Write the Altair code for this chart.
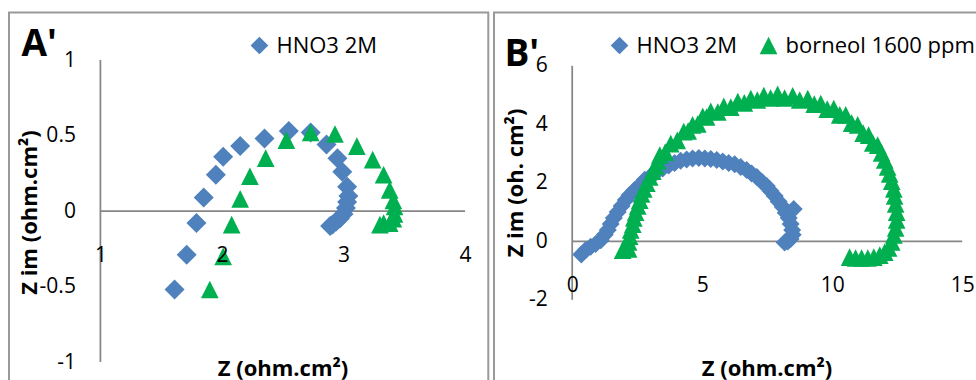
import altair as alt
import pandas as pd

# ---------------- data ----------------
SERIES = ["HNO3 2M", "borneol 1600 ppm"]
COLORS = ["#4F81BD", "#00B050"]
TRIANGLE = "M0,-1L1,1L-1,1Z"
SHAPES = ["diamond", TRIANGLE]

# Panel A'
a_hno3_z = [1.61, 1.71, 1.79, 1.85, 1.95, 2.01, 2.15, 2.35, 2.55, 2.73, 2.86, 2.95,
            2.99, 3.03, 3.04, 3.03, 3.02, 3.00, 2.97, 2.94, 2.91, 2.89]
a_hno3_zim = [-0.52, -0.29, -0.08, 0.09, 0.24, 0.36, 0.43, 0.48, 0.53, 0.52, 0.44, 0.35,
              0.26, 0.16, 0.10, 0.06, 0.02, -0.02, -0.05, -0.07, -0.09, -0.10]
a_born_z = [1.90, 2.01, 2.08, 2.15, 2.23, 2.36, 2.53, 2.73, 2.93, 3.11, 3.24, 3.33,
            3.38, 3.41, 3.42, 3.42, 3.41, 3.38, 3.33, 3.30]
a_born_zim = [-0.52, -0.30, -0.09, 0.08, 0.23, 0.35, 0.47, 0.52, 0.51, 0.43, 0.34, 0.24,
              0.14, 0.07, 0.03, -0.02, -0.05, -0.08, -0.08, -0.09]

# Panel B'
b_hno3_z = [0.35, 0.52, 0.71, 0.90, 1.10, 1.25, 1.37, 1.48, 1.60, 1.75, 1.90, 2.06, 2.21,
            2.40, 2.60, 2.79, 3.02, 3.25, 3.48, 3.71, 3.94, 4.17, 4.40, 4.63, 4.87, 5.10,
            5.33, 5.56, 5.79, 6.02, 6.25, 6.48, 6.71, 6.90, 7.10, 7.29, 7.48, 7.63, 7.79,
            7.94, 8.10, 8.21, 8.33, 8.40, 8.46, 8.48, 8.40, 8.29, 8.17, 8.52]
b_hno3_zim = [-0.45, -0.30, -0.19, -0.09, 0.04, 0.22, 0.39, 0.59, 0.80, 1.00, 1.21, 1.41,
              1.58, 1.75, 1.92, 2.10, 2.23, 2.37, 2.49, 2.59, 2.68, 2.75, 2.80, 2.83, 2.85,
              2.83, 2.81, 2.78, 2.73, 2.68, 2.63, 2.54, 2.44, 2.32, 2.20, 2.04, 1.89, 1.72,
              1.55, 1.36, 1.17, 0.98, 0.80, 0.59, 0.39, 0.22, 0.08, -0.01, -0.04, 1.10]
b_born_z = [1.94, 2.17, 2.17, 2.21, 2.25, 2.33, 2.37, 2.44, 2.52, 2.60, 2.67, 2.75, 2.87,
            2.98, 3.10, 3.21, 3.29,
            3.37, 3.58, 3.79, 4.04, 4.29, 4.46, 4.63, 4.83, 5.02, 5.17, 5.33, 5.60, 5.83,
            6.10, 6.37, 6.62, 6.87, 7.12, 7.37, 7.63, 7.90, 8.17, 8.48, 8.75, 9.06, 9.31,
            9.56, 9.81, 10.06, 10.29, 10.52, 10.75, 10.98, 11.19, 11.40, 11.56, 11.75,
            11.90, 12.02, 12.13, 12.21, 12.29, 12.37, 12.40, 12.44, 12.48, 12.48, 12.44,
            12.37, 12.29, 12.17, 12.02, 11.83, 11.60, 11.37, 11.13, 10.90, 10.67]
b_born_zim = [-0.30, -0.26, -0.02, 0.18, 0.39, 0.59, 0.80, 1.00, 1.21, 1.41, 1.62, 1.79,
              1.99, 2.20, 2.40, 2.57, 2.76,
              2.95, 3.05, 3.34, 3.45, 3.75, 3.77, 3.98, 4.01, 4.27, 4.25, 4.44, 4.42, 4.61,
              4.59, 4.78, 4.73, 4.88, 4.83, 4.98, 4.90, 5.02, 4.90, 4.97, 4.83, 4.88, 4.69,
              4.71, 4.52, 4.54, 4.32, 4.32, 4.04, 3.98, 3.70, 3.63, 3.36, 3.29,
              3.02, 2.78, 2.54, 2.30, 2.06, 1.79, 1.55, 1.28, 1.00, 0.73, 0.46,
              0.22, -0.02, -0.23, -0.37, -0.47, -0.54, -0.57, -0.57, -0.57, -0.54]

a_xticks = [1, 2, 3, 4]
a_yticks = [-1, -0.5, 0, 0.5, 1]
b_xticks = [0, 5, 10, 15]
b_yticks = [-2, 0, 2, 4, 6]

FONT = "Open Sans"
AXIS_GRAY = "#868686"


def make_panel(hz, hzim, bz, bzim, xticks, yticks, xdom, ydom, w, h,
               xoff, yoff, xtitle, ytitle, xt, yt, legend_vals, legend_xy,
               sizes, label, label_dx, label_dy, label_off):
    hdf = pd.DataFrame({"z": hz, "zim": hzim, "series": SERIES[0]})
    bdf = pd.DataFrame({"z": bz, "zim": bzim, "series": SERIES[1]})
    xaxis_line = pd.DataFrame({"x": [xticks[0]], "x2": [xticks[-1]], "y": [0]})
    yaxis_line = pd.DataFrame({"x": [xticks[0]], "y": [yticks[0]], "y2": [yticks[-1]]})

    xscale = alt.Scale(domain=xdom, nice=False, zero=False)
    yscale = alt.Scale(domain=ydom, nice=False, zero=False)
    xaxis = alt.Axis(values=xticks, grid=False, domain=False, ticks=False,
                     offset=xoff, labelFont=FONT, labelFontSize=21, labelColor="black",
                     labelBaseline="middle", labelPadding=44, labelFlush=False,
                     labelOverlap=False, labelExpr="'' + datum.value",
                     title=xtitle, titleFont=FONT, titleFontSize=22, titleFontWeight="bold",
                     titleColor="black", titleX=xt[0], titleY=xt[1], titleAlign="center",
                     titleBaseline="alphabetic", zindex=1)
    yaxis = alt.Axis(values=yticks, grid=False, domain=False, ticks=False,
                     offset=yoff, labelFont=FONT, labelFontSize=21, labelColor="black",
                     labelPadding=25, labelFlush=False, labelOverlap=False,
                     labelExpr="'' + datum.value",
                     title=ytitle, titleFont=FONT, titleFontSize=22, titleFontWeight="bold",
                     titleColor="black", titleX=yt[0], titleY=yt[1], titleAngle=270,
                     titleAlign="center", titleBaseline="middle", zindex=1)

    def X(f):
        return alt.X(f, scale=xscale, axis=xaxis)

    def Y(f):
        return alt.Y(f, scale=yscale, axis=yaxis)

    legend = alt.Legend(orient="none", legendX=legend_xy[0], legendY=legend_xy[1],
                        direction="horizontal", columns=len(legend_vals), title=None,
                        values=legend_vals, symbolSize=313, symbolStrokeWidth=0,
                        symbolOpacity=1, labelFont=FONT, labelFontSize=22,
                        labelColor="black", labelOffset=6, labelLimit=400,
                        columnPadding=20, padding=0)
    color = alt.Color("series:N", scale=alt.Scale(domain=SERIES, range=COLORS), legend=legend)
    shape = alt.Shape("series:N", scale=alt.Scale(domain=SERIES, range=SHAPES), legend=legend)

    rx = alt.Chart(xaxis_line).mark_rule(color=AXIS_GRAY, strokeWidth=1.75).encode(
        x=X("x:Q"), x2="x2:Q", y=Y("y:Q"))
    ry = alt.Chart(yaxis_line).mark_rule(color=AXIS_GRAY, strokeWidth=1.75).encode(
        x=X("x:Q"), y=Y("y:Q"), y2="y2:Q")
    ph = alt.Chart(hdf).mark_point(filled=True, opacity=1, size=sizes[0]).encode(
        x=X("z:Q"), y=Y("zim:Q"), color=color, shape=shape)
    pb = alt.Chart(bdf).mark_point(filled=True, opacity=1, size=sizes[1]).encode(
        x=X("z:Q"), y=Y("zim:Q"), color=color, shape=shape)

    return alt.layer(rx, ry, ph, pb).properties(
        width=w, height=h,
        title=alt.TitleParams(label, anchor="start", frame="group", font=FONT,
                              fontSize=37, fontWeight="bold", color="black",
                              baseline="alphabetic", offset=label_off,
                              dx=label_dx, dy=label_dy),
    )


left = make_panel(a_hno3_z, a_hno3_zim, a_born_z, a_born_zim, a_xticks, a_yticks,
                  [0.248, 4.1913], [-1.3344, 1.3146], 479.3, 400,
                  -201.5, -91.4, "Z (ohm.cm²)", "Z im (ohm.cm²)",
                  (273.5, 164), (-70.9, 199.5), ["HNO3 2M"], (239.45, 22),
                  (400, 313), "A'", 12.5, 47.5, -33)

right = make_panel(b_hno3_z, b_hno3_zim, b_born_z, b_born_zim, b_xticks, b_yticks,
                   [-3.0077, 16.2231], [-5.853, 7.8222], 500, 400,
                   -171.2, -78.2, "Z (ohm.cm²)", "Z im (oh. cm²)",
                   (272.5, 133.7), (-56.5, 170), SERIES, (114.55, 22),
                   (324, 313), "B'", 10.5, 52.5, -38)

chart = alt.hconcat(left, right, spacing=5, bounds="flush").resolve_scale(
    x="independent", y="independent", color="independent", shape="independent"
).resolve_legend(color="independent", shape="independent").properties(
    autosize=alt.AutoSizeParams(type="none"),
    padding={"left": 9, "top": 12.5, "right": 967, "bottom": 367.5},
    background="white",
).configure_view(stroke="#999999", strokeWidth=2)

chart.save("out.html", embed_options={"renderer": "svg", "actions": False})
